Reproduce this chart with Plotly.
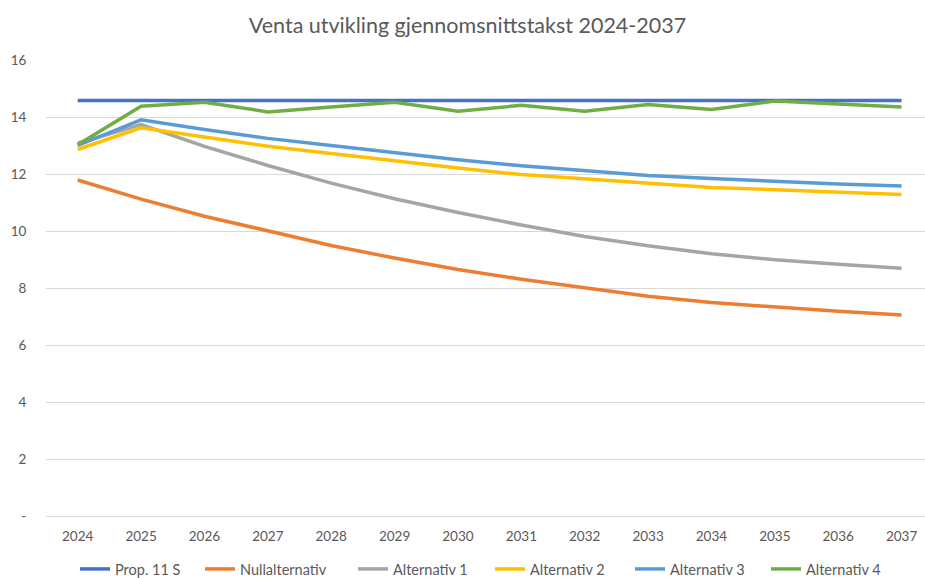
import plotly.graph_objects as go

years = ["2024", "2025", "2026", "2027", "2028", "2029", "2030",
         "2031", "2032", "2033", "2034", "2035", "2036", "2037"]

prop_11_s = [14.58] * 14
nullalternativ = [11.79, 11.12, 10.52, 9.99, 9.49, 9.05, 8.65, 8.31, 8.00, 7.71, 7.49, 7.32, 7.18, 7.05]
alternativ_1 = [13.08, 13.73, 12.97, 12.30, 11.68, 11.13, 10.65, 10.21, 9.81, 9.48, 9.20, 8.99, 8.83, 8.69]
alternativ_2 = [12.86, 13.62, 13.30, 12.97, 12.72, 12.45, 12.21, 11.98, 11.83, 11.68, 11.53, 11.45, 11.36, 11.28]
alternativ_3 = [13.00, 13.90, 13.56, 13.25, 13.00, 12.74, 12.50, 12.29, 12.13, 11.95, 11.84, 11.74, 11.65, 11.58]
alternativ_4 = [13.03, 14.38, 14.52, 14.18, 14.35, 14.52, 14.20, 14.41, 14.20, 14.44, 14.26, 14.56, 14.46, 14.35]

y_tickvals = [0, 2, 4, 6, 8, 10, 12, 14, 16]
y_ticktext = ["-", "2", "4", "6", "8", "10", "12", "14", "16"]

series = [
    ("Prop. 11 S", prop_11_s, "#4472C4"),
    ("Nullalternativ", nullalternativ, "#ED7D31"),
    ("Alternativ 1", alternativ_1, "#A5A5A5"),
    ("Alternativ 2", alternativ_2, "#FFC000"),
    ("Alternativ 3", alternativ_3, "#5B9BD5"),
    ("Alternativ 4", alternativ_4, "#70AD47"),
]

# legend entry left edges (pixels) so each entry sits where the reference has it
legend_left_px = [75, 200, 353, 490, 630, 766]

FONT = "Lato, Calibri, 'Open Sans', sans-serif"
GREY = "#595959"

W, H = 925, 578
ML, MR, MT, MB = 46, 0, 60, 62
PW = W - ML - MR
PH = H - MT - MB

fig = go.Figure()
legend_layouts = {}
for i, (name, vals, color) in enumerate(series):
    key = "legend" if i == 0 else f"legend{i + 1}"
    fig.add_trace(go.Scatter(
        x=years, y=vals, name=name, mode="lines",
        line=dict(color=color, width=3.5),
        legend=key,
    ))
    legend_layouts[key] = dict(
        orientation="h",
        x=(legend_left_px[i] - ML) / PW, xanchor="left",
        y=-(569 - (MT + PH)) / PH, yanchor="middle",
        font=dict(family=FONT, size=14.5, color=GREY),
        itemwidth=30, bgcolor="rgba(0,0,0,0)",
    )

fig.update_layout(
    width=W, height=H,
    margin=dict(l=ML, r=MR, t=MT, b=MB, autoexpand=False),
    paper_bgcolor="white", plot_bgcolor="white",
    font=dict(family=FONT, color=GREY, size=13),
    title=dict(text="Venta utvikling gjennomsnittstakst 2024-2037",
               x=467.5 / W, xanchor="center", y=1 - 25 / H, yanchor="middle",
               font=dict(family=FONT, size=21.5, color=GREY)),
    showlegend=True,
    hovermode=False,
    **legend_layouts,
)
fig.update_xaxes(
    type="category", range=[-0.5, 13.37], automargin=False,
    showgrid=False, showline=False, zeroline=False,
    ticks="outside", ticklen=8, tickcolor="rgba(0,0,0,0)",
    tickfont=dict(family=FONT, size=13.5, color=GREY),
)
fig.update_yaxes(
    range=[0, 16], tickvals=y_tickvals, ticktext=y_ticktext, automargin=False,
    showgrid=True, gridcolor="#D9D9D9", gridwidth=1,
    zeroline=True, zerolinecolor="#D9D9D9", zerolinewidth=1,
    showline=False,
    ticks="outside", ticklen=16, tickcolor="rgba(0,0,0,0)",
    tickfont=dict(family=FONT, size=13.5, color=GREY),
)

fig.write_html(
    "out.html",
    config={"displayModeBar": False},
    post_script="document.body.style.margin='0';document.body.style.overflow='hidden';",
)
